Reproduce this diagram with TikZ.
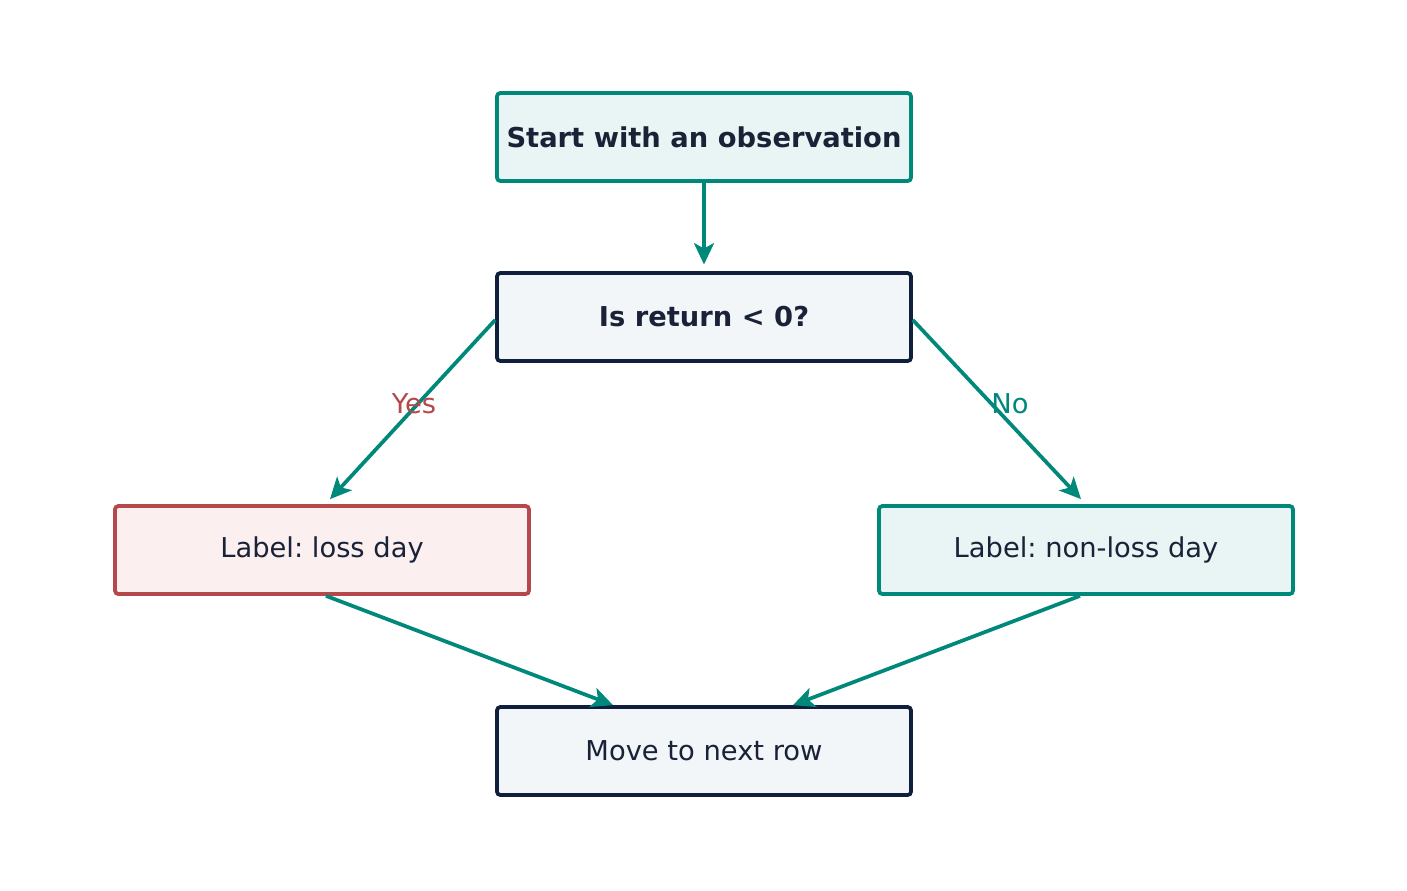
\documentclass[tikz,border=0pt]{standalone}
\usepackage{fontspec}
\setmainfont{DejaVu Sans}
\frenchspacing
\usetikzlibrary{arrows.meta,calc}
\definecolor{tealc}{RGB}{0,137,123}
\definecolor{navyc}{RGB}{15,31,61}
\definecolor{redc}{RGB}{181,72,74}
\definecolor{inkc}{RGB}{26,34,56}
\definecolor{tealfill}{RGB}{233,245,244}
\definecolor{grayfill}{RGB}{242,246,248}
\definecolor{redfill}{RGB}{251,239,239}
\tikzset{every picture/.style={line width=0.75pt}}
\tikzset{
  box/.style={draw, rounded corners=2.5pt, line width=2.8pt, minimum width=310.5pt, minimum height=66pt,
    inner sep=0pt, text=inkc, font=\fontsize{20.5}{24}\selectfont},
  tealbox/.style={box, draw=tealc, fill=tealfill},
  navybox/.style={box, draw=navyc, fill=grayfill},
  redbox/.style={box, draw=redc, fill=redfill},
  flow/.style={draw=tealc, line width=2.8pt, -{Stealth[length=16pt,width=15pt,inset=4pt]}},
  tag/.style={font=\fontsize{20.5}{24}\selectfont}
}
\begin{document}
\begin{tikzpicture}[x=0.75pt,y=0.75pt,yscale=-1,xscale=1]
    \useasboundingbox (0,0) rectangle (1407,890);
    % Boxes
    \node [tealbox, font=\fontsize{20.5}{24}\selectfont\bfseries] (start) at (704,137) {Start with an observation};
    \node [navybox, font=\fontsize{20.5}{24}\selectfont\bfseries] (test) at (704,317) {Is return < 0?};
    \node [redbox] (loss) at (322,550) {Label: loss day};
    \node [tealbox] (nonloss) at (1086,550) {Label: non-loss day};
    \node [navybox] (next) at (704,751) {Move to next row};
    % Connections
    \draw [flow, shorten >=5] (start) -- (test);
    \draw [flow] ($(test.west)+(0,3)$) -- ($(loss.north)+(8,-5)$);
    \draw [flow] ($(test.east)+(0,3)$) -- ($(nonloss.north)+(-5,-5)$);
    \draw [flow] ($(loss.south)+(4,0)$) -- ($(next.north)+(-91,0)$);
    \draw [flow] ($(nonloss.south)+(-6,0)$) -- ($(next.north)+(89,0)$);
    % Labels
    \node [tag, text=redc] (yes) at (414,404) {Yes};
    \node [tag, text=tealc] (no) at (1010,404) {No};
\end{tikzpicture}
\end{document}
